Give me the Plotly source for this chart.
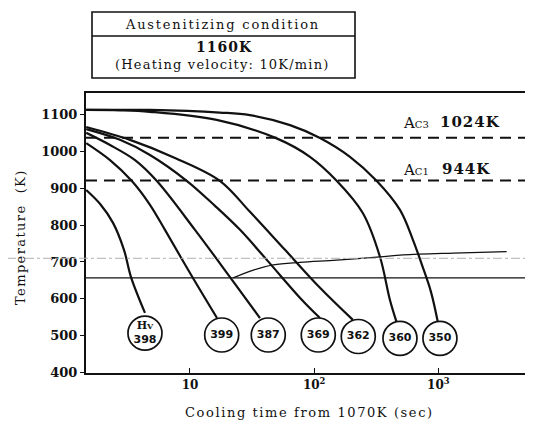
import plotly.graph_objects as go

# cooling curves: time (s) and temperature (K)
t_398 = [1.46, 1.89, 2.40, 2.94, 3.35, 4.34]
k_398 = [895, 857, 806, 733, 659, 562]

t_399 = [1.46, 2.27, 3.39, 4.76, 6.29, 10.0, 16.5]
k_399 = [1022, 976, 920, 855, 787, 670, 548]

t_387 = [1.46, 2.27, 3.61, 5.39, 10.97, 21.0, 36.6]
k_387 = [1050, 1017, 976, 920, 787, 659, 548]

t_369 = [1.46, 2.73, 4.76, 9.41, 15.9, 25.3, 41.7, 79.8, 111.4]
k_369 = [1060, 1031, 990, 920, 852, 787, 705, 597, 548]

t_362 = [1.46, 3.29, 7.57, 17.4, 30.4, 58.2, 111.4, 205]
k_362 = [1066, 1031, 982, 920, 836, 733, 630, 543]

t_360 = [1.46, 2.73, 4.76, 16.4, 49.9, 92.5, 151.8, 247, 338.7, 407.6, 461]
k_360 = [1112, 1111, 1107, 1085, 1035, 985, 920, 832, 714, 597, 537]

t_350 = [1.46, 4.76, 17.4, 30.4, 63.9, 111.4, 194.2, 318, 490.8, 624, 738, 872, 993]
k_350 = [1112, 1112, 1105, 1098, 1071, 1036, 985, 920, 841, 760, 692, 619, 535]

# transformation start line
t_start = [22.3, 32.4, 46.9, 76.9, 151.7, 338.8, 521, 1318, 3548]
k_start = [657, 678, 692, 699, 705, 714, 719, 724, 728]

# hardness circles
hv_labels = ["<span style='font-family:DejaVu Serif'>H<span style='font-size:8px'>V</span></span><br>398",
             "399", "387", "369", "362", "360", "350"]
t_hv = [4.34, 18.0, 42.7, 107.9, 226.5, 490.8, 1030]
k_hv = [507, 502, 502, 502, 498, 493, 493]

ac3_line, ac3_label = 1037, "1024K"
ac1_line, ac1_label = 921, "944K"
ms_line = 657
faint_line = 710

y_ticks = [400, 500, 600, 700, 800, 900, 1000, 1100]
x_ticks = [10, 100, 1000]
x_ticktext = ["10", "10<sup>2</sup>", "10<sup>3</sup>"]

SERIF = "DejaVu Serif"
INK = "#111111"

# plot area in page pixels: left 86, right 529, top 93, bottom 373
def px(x):
    return (x - 86) / 443

def py(y):
    return (373 - y) / 280

fig = go.Figure()

for t, k in [(t_398, k_398), (t_399, k_399), (t_387, k_387), (t_369, k_369),
             (t_362, k_362), (t_360, k_360), (t_350, k_350)]:
    fig.add_trace(go.Scatter(x=t, y=k, mode="lines", line=dict(color=INK, width=2.2, shape="spline"),
                             showlegend=False, hoverinfo="skip"))

fig.add_trace(go.Scatter(x=t_start, y=k_start, mode="lines", line=dict(color=INK, width=1.3, shape="spline"),
                         showlegend=False, hoverinfo="skip"))

fig.add_trace(go.Scatter(
    x=t_hv, y=k_hv, mode="markers+text", text=hv_labels, textposition="middle center",
    textfont=dict(family="DejaVu Sans", size=11, color=INK, weight="bold"),
    marker=dict(size=34, color="white", line=dict(color=INK, width=1.7)),
    showlegend=False, hoverinfo="skip"))

# reference lines
fig.add_hline(y=ac3_line, line=dict(color=INK, width=2, dash="11px,7px"))
fig.add_hline(y=ac1_line, line=dict(color=INK, width=2, dash="11px,7px"))
fig.add_hline(y=ms_line, line=dict(color=INK, width=1.3))
fig.add_shape(type="line", xref="paper", yref="y", x0=px(7), x1=1, y0=faint_line, y1=faint_line,
              line=dict(color="#b0b0b0", width=1, dash="dashdot"))

# austenitizing condition box
fig.add_shape(type="rect", xref="paper", yref="paper", x0=px(92), x1=px(355), y0=py(78), y1=py(12),
              line=dict(color=INK, width=1.6))
fig.add_shape(type="line", xref="paper", yref="paper", x0=px(92), x1=px(355), y0=py(36), y1=py(36),
              line=dict(color=INK, width=1.3))

def note(x, y, text, size=13, angle=0, weight="normal", spacing=0):
    if spacing:
        text = f"<span style='letter-spacing:{spacing}px'>{text}</span>"
    fig.add_annotation(x=px(x), y=py(y), xref="paper", yref="paper", text=text, showarrow=False,
                       textangle=angle, font=dict(family=SERIF, size=size, color=INK, weight=weight),
                       xanchor="center", yanchor="middle")

note(222, 24, "Austenitizing condition", 13, spacing=1.8)
note(224, 47, "1160K", 14, weight="bold", spacing=1)
note(222, 65, "(Heating velocity: 10K/min)", 13, spacing=1.2)

note(416, 123, "A<span style='font-size:10px'>C3</span>", 15)
note(470, 122, ac3_label, 15, weight="bold", spacing=1)
note(416, 170, "A<span style='font-size:10px'>C1</span>", 15)
note(466, 169, ac1_label, 15, weight="bold", spacing=1)

note(309, 412, "Cooling time from 1070K (sec)", 13, spacing=1.6)
note(20, 237, "Temperature  (K)", 13, angle=-90, spacing=1.4)

fig.update_xaxes(
    type="log", range=[0.1626, 3.730], tickvals=x_ticks, ticktext=x_ticktext,
    ticks="inside", ticklen=5, tickwidth=1.3, tickcolor=INK,
    showline=True, linecolor=INK, linewidth=2, mirror=True, showgrid=False, zeroline=False,
    tickfont=dict(family=SERIF, size=12, color=INK, weight="bold"))
fig.update_yaxes(
    range=[399, 1158], tickvals=y_ticks, ticks="outside", ticklen=4, tickwidth=1.3, tickcolor=INK,
    showline=True, linecolor=INK, linewidth=2, showgrid=False, zeroline=False,
    tickfont=dict(family=SERIF, size=13, color=INK, weight="bold"))

# page body adds an 8px offset, so the figure is 8px smaller and margins shift by 8
fig.update_layout(
    width=525, height=415,
    margin=dict(l=78, r=4, t=85, b=50),
    paper_bgcolor="white", plot_bgcolor="white",
    showlegend=False,
)

fig.write_html("out.html")
